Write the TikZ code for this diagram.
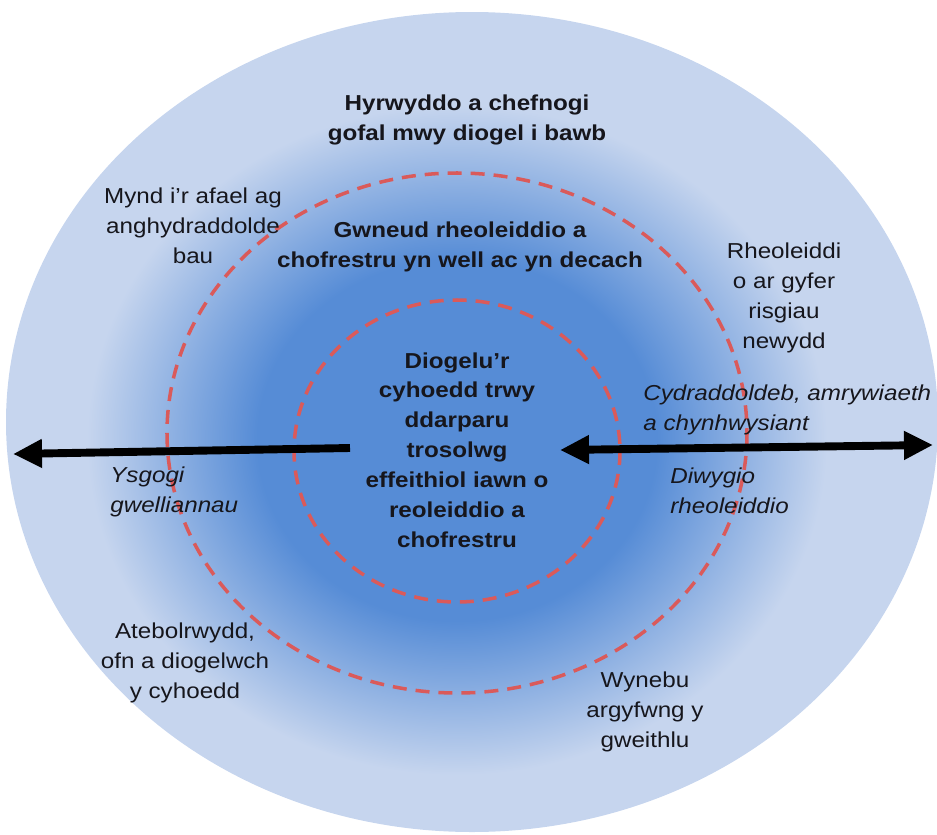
\documentclass[tikz,border=0pt]{standalone}
\usepackage{fontspec}
\setmainfont{Liberation Sans}[FakeStretch=1.12]
\usetikzlibrary{arrows.meta}
\definecolor{inblue}{RGB}{86,140,214}
\definecolor{outblue}{RGB}{198,213,238}
\definecolor{ringred}{RGB}{218,90,90}
\definecolor{inkdark}{RGB}{22,22,28}
\pgfdeclareradialshading{glow}{\pgfpoint{0bp}{0bp}}{color(0bp)=(inblue); color(13.5bp)=(inblue); color(25bp)=(outblue); color(50bp)=(outblue)}
\begin{document}
\begin{tikzpicture}[x=0.02cm, y=-0.02cm,
    txt/.style={font=\fontsize{12.3pt}{17pt}\selectfont, text=inkdark, align=center, inner sep=0pt},
    boldtxt/.style={txt, font=\fontsize{12.3pt}{17pt}\selectfont\bfseries},
    slanttxt/.style={txt, font=\fontsize{12.3pt}{17pt}\selectfont\itshape, align=left, anchor=west},
    ring/.style={draw=ringred, line width=2pt, dash pattern=on 0.28cm off 0.18cm},
    headtip/.tip={Triangle[length=0.58cm, width=0.54cm]},
    bigarrow/.style={line width=4.5pt, -headtip}]
    \useasboundingbox (0, 0) rectangle (937, 835);
    \fill [outblue] (472, 422) ellipse (466 and 410);
    \shade [shading=glow] (457, 440) ellipse (370 and 335);
    \draw [ring] (457, 433) ellipse (290 and 260);
    \draw [ring] (457, 451) ellipse (163 and 151);

    \coordinate (leftStart) at (350, 448);
    \coordinate (leftTip) at (13, 454);
    \coordinate (rightTipL) at (560, 450);
    \coordinate (rightTipR) at (933, 445);
    \draw [bigarrow] (leftStart) -- (leftTip);
    \draw [bigarrow, headtip-headtip] (rightTipL) -- (rightTipR);

    \node [boldtxt] (outerAim) at (467, 120) {Hyrwyddo a chefnogi\\gofal mwy diogel i bawb};
    \node [boldtxt] (middleAim) at (460, 247) {Gwneud rheoleiddio a\\chofrestru yn well ac yn decach};
    \node [boldtxt] (coreAim) at (457, 450) {Diogelu’r\\cyhoedd trwy\\ddarparu\\trosolwg\\effeithiol iawn o\\reoleiddio a\\chofrestru};

    \node [txt] (inequal) at (193, 226) {Mynd i’r afael ag\\anghydraddolde\\bau};
    \node [txt] (newRisk) at (784, 298) {Rheoleiddi\\o ar gyfer\\risgiau\\newydd};
    \node [txt] (account) at (185, 663) {Atebolrwydd,\\ofn a diogelwch\\y cyhoedd};
    \node [txt] (workforce) at (645, 712) {Wynebu\\argyfwng y\\gweithlu};

    \node [slanttxt] (equality) at (643, 410) {Cydraddoldeb, amrywiaeth\\a chynhwysiant};
    \node [slanttxt] (reform) at (670, 491) {Diwygio\\rheoleiddio};
    \node [slanttxt] (improve) at (110, 492) {Ysgogi\\gwelliannau};
\end{tikzpicture}
\end{document}
